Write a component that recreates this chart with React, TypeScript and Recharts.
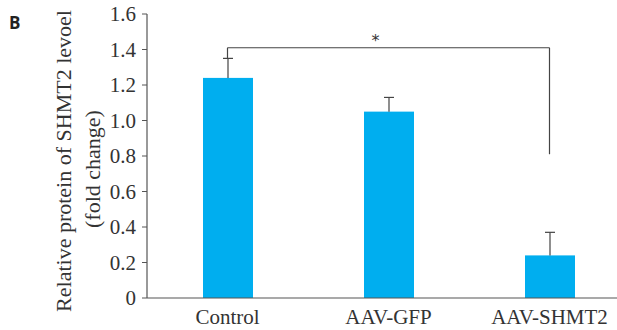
import React from "react";
import {
  BarChart,
  Bar,
  XAxis,
  YAxis,
  ReferenceLine,
  ReferenceDot,
} from "recharts";

const categories = ["Control", "AAV-GFP", "AAV-SHMT2"];
const foldChange = [1.24, 1.05, 0.24];
const errUp = [0.11, 0.08, 0.13];
const yTicks = [0, 0.2, 0.4, 0.6, 0.8, 1.0, 1.2, 1.4, 1.6];

// significance bracket (Control vs AAV-SHMT2)
const bracketY = 1.41;
const bracketLeftEnd = 1.35;
const bracketRightEnd = 0.81;

const data = categories.map((name, i) => ({
  name,
  value: foldChange[i],
  err: errUp[i],
}));

const serif = "'Liberation Serif', 'Times New Roman', serif";

const BarWithError = (props: any) => {
  const { x, y, width, height, fill, payload } = props;
  const pxPerUnit = height / payload.value;
  const top = y - payload.err * pxPerUnit;
  const cx = x + width / 2;
  return (
    <g>
      <rect x={x} y={y} width={width} height={height} fill={fill} />
      <line x1={cx} y1={y} x2={cx} y2={top} stroke="#444" strokeWidth={1.2} />
      <line x1={cx - 5} y1={top} x2={cx + 5} y2={top} stroke="#444" strokeWidth={1.2} />
    </g>
  );
};

const AxisTitle = (props: any) => {
  const { viewBox } = props;
  const cy = viewBox.y + viewBox.height / 2 + 5;
  return (
    <g fontFamily={serif} fontSize={22} fill="#333">
      <text x={63} y={cy} transform={`rotate(-90, 63, ${cy})`} textAnchor="middle" dominantBaseline="central">
        Relative protein of SHMT2 levoel
      </text>
      <text x={92} y={cy + 8} transform={`rotate(-90, 92, ${cy + 8})`} textAnchor="middle" dominantBaseline="central">
        (fold change)
      </text>
    </g>
  );
};

export default function App() {
  return (
    <div style={{ position: "absolute", left: 0, top: 0, width: 617, height: 330, overflow: "hidden", background: "#fff" }}>
      <svg style={{ position: "absolute", left: 0, top: 0 }} width={40} height={40}>
        <text x={9} y={29} fontFamily="'Open Sans', 'DejaVu Sans', sans-serif" fontWeight="bold" fontSize={17} fill="#222">
          B
        </text>
      </svg>
      <BarChart
        width={640}
        height={330}
        data={data}
        margin={{ top: 14, right: 10, left: 0, bottom: 2 }}
        barCategoryGap={0}
      >
        <XAxis
          dataKey="name"
          height={30}
          axisLine={{ stroke: "#555", strokeWidth: 1.2 }}
          tickLine={false}
          tickSize={0}
          tickMargin={11}
          tick={{ fontFamily: serif, fontSize: 21, fill: "#333" }}
          padding={{ left: 0, right: 0 }}
        />
        <YAxis
          width={147}
          domain={[0, 1.6]}
          ticks={yTicks}
          interval={0}
          tickFormatter={(v: number) => (v === 0 ? "0" : v.toFixed(1))}
          axisLine={{ stroke: "#555", strokeWidth: 1.2 }}
          tickLine={{ stroke: "#555" }}
          tickSize={5}
          tickMargin={6}
          tick={{ fontFamily: serif, fontSize: 21, fill: "#333" }}
          label={<AxisTitle />}
        />
        <Bar
          dataKey="value"
          fill="#00AEEF"
          barSize={50}
          shape={<BarWithError />}
          isAnimationActive={false}
        />
        <ReferenceLine
          segment={[
            { x: "Control", y: bracketY },
            { x: "AAV-SHMT2", y: bracketY },
          ]}
          stroke="#444"
          strokeWidth={1.2}
        />
        <ReferenceLine
          segment={[
            { x: "Control", y: bracketY },
            { x: "Control", y: bracketLeftEnd },
          ]}
          stroke="#444"
          strokeWidth={1.2}
        />
        <ReferenceLine
          segment={[
            { x: "AAV-SHMT2", y: bracketY },
            { x: "AAV-SHMT2", y: bracketRightEnd },
          ]}
          stroke="#444"
          strokeWidth={1.2}
        />
        <ReferenceDot
          x="AAV-GFP"
          y={bracketY}
          r={0}
          stroke="none"
          label={{ value: "*", position: "top", offset: 2, dx: -13, fontSize: 16, fill: "#333", fontFamily: "'DejaVu Sans', sans-serif" }}
        />
      </BarChart>
    </div>
  );
}
